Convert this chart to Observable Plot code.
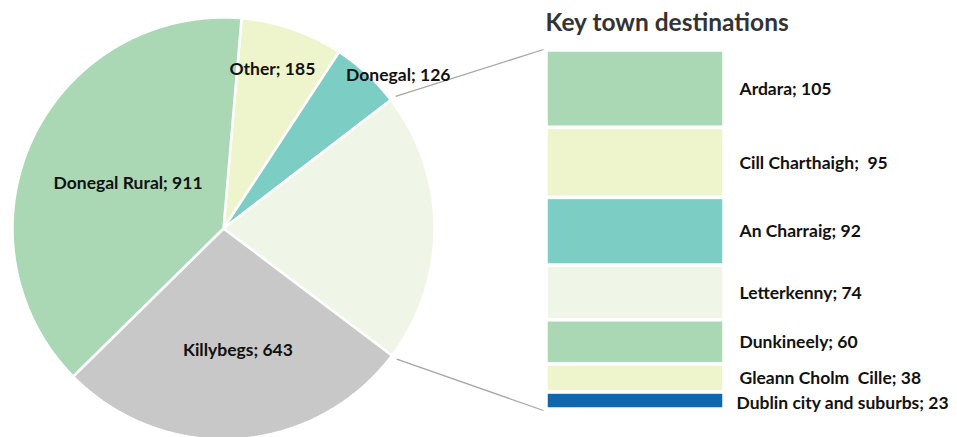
<!DOCTYPE html>
<html>
<head>
<meta charset="utf-8">
<script src="https://cdn.jsdelivr.net/npm/d3@7"></script>
<script src="https://cdn.jsdelivr.net/npm/@observablehq/plot@0.6"></script>
<style>
  html, body { margin: 0; padding: 0; background: #fff; }
  #chart svg { display: block; }
</style>
</head>
<body>
<div id="chart"></div>
<script>
// ---- data ----
const pieNames = ["Other", "Donegal", "Key towns", "Killybegs", "Donegal Rural"];
const pieOtherValues = { "Other": 185, "Donegal": 126, "Killybegs": 643, "Donegal Rural": 911 };
const townNames = ["Ardara", "Cill Charthaigh", "An Charraig", "Letterkenny", "Dunkineely", "Gleann Cholm Cille", "Dublin city and suburbs"];
const townValues = [105, 95, 92, 74, 60, 38, 23];
const townLabels = ["Ardara; 105", "Cill Charthaigh;  95", "An Charraig; 92", "Letterkenny; 74", "Dunkineely; 60", "Gleann Cholm  Cille; 38", "Dublin city and suburbs; 23"];
const title = "Key town destinations";

// ---- styling ----
const pieColors = { "Other": "#eef5cc", "Donegal": "#7ccdc4", "Key towns": "#eff5e7", "Killybegs": "#c8c8c8", "Donegal Rural": "#aad8b5" };
const townColors = ["#aad8b5", "#eef5cc", "#7ccdc4", "#eff5e7", "#aad8b5", "#eef5cc", "#0f68ae"];
const W = 957, H = 437;
const cx = 223, cy = 228, R = 211;
const startDeg = 4.9;
const barX1 = 546, barX2 = 724, barTop = 50, barBottom = 409;
const labelPos = { "Other": [0.79, -2], "Donegal": [1.1, 6], "Killybegs": [0.58, -3], "Donegal Rural": [0.5, 0] };
const font = "Lato, 'Liberation Sans', sans-serif";
const labelSize = 17.5;

// ---- derived ----
const keyTotal = d3.sum(townValues);
const pieData = pieNames.map(n => ({ name: n, value: n === "Key towns" ? keyTotal : pieOtherValues[n] }));
const rad = d => d * Math.PI / 180;
const arcs = d3.pie().sort(null).value(d => d.value)
  .startAngle(rad(startDeg)).endAngle(rad(startDeg + 360))(pieData);
const pt = (a, r) => [cx + r * Math.sin(a), cy - r * Math.cos(a)];

const marks = [];
for (const a of arcs) {
  const pts = [pt(0, 0)];
  const n = Math.max(8, Math.ceil((a.endAngle - a.startAngle) / rad(0.5)));
  for (let i = 0; i <= n; i++) pts.push(pt(a.startAngle + (a.endAngle - a.startAngle) * i / n, R));
  marks.push(Plot.line(pts, { x: d => d[0], y: d => d[1], fill: pieColors[a.data.name], stroke: "white", strokeWidth: 2.5, curve: "linear-closed" }));
}

// connectors from the key-towns slice to the bar
const key = arcs.find(a => a.data.name === "Key towns");
const p0 = pt(key.startAngle, R + 6), p1 = pt(key.endAngle, R + 6);
const connectors = [
  { x1: p0[0], y1: p0[1], x2: barX1 - 3, y2: barTop - 1 },
  { x1: p1[0], y1: p1[1], x2: barX1 - 3, y2: barBottom + 1 }
];
marks.push(Plot.link(connectors, { x1: "x1", y1: "y1", x2: "x2", y2: "y2", stroke: "#a6a6a6", strokeWidth: 1.3 }));

// stacked bar
const k = (barBottom - barTop) / keyTotal;
let cum = 0;
const bars = townNames.map((name, i) => {
  const y1 = barTop + cum * k;
  cum += townValues[i];
  const y2 = barTop + cum * k;
  return { name, value: townValues[i], label: townLabels[i], color: townColors[i], y1, y2 };
});
marks.push(Plot.rect(bars, { x1: () => barX1, x2: () => barX2, y1: "y1", y2: "y2", fill: "color", stroke: "white", strokeWidth: 3.5 }));
marks.push(Plot.text(bars, { x: d => barX2 + (d.name.startsWith("Dublin") ? 12 : 15), y: d => (d.y1 + d.y2) / 2 + (d.name.startsWith("Dublin") ? 2 : 0), text: "label", textAnchor: "start", fontWeight: "bold", fontSize: labelSize, fill: "#111", fontFamily: font }));

// pie labels
const pieLabels = arcs.filter(a => labelPos[a.data.name]).map(a => {
  const [f, dDeg] = labelPos[a.data.name];
  const mid = (a.startAngle + a.endAngle) / 2 + rad(dDeg);
  const [x, y] = pt(mid, R * f);
  return { x, y, text: `${a.data.name}; ${a.data.value}` };
});
marks.push(Plot.text(pieLabels, { x: "x", y: "y", text: "text", fontWeight: "bold", fontSize: labelSize, fill: "#111", fontFamily: font }));

// title
marks.push(Plot.text([title], { x: () => barX1 - 1, y: () => 23, text: d => d, textAnchor: "start", fontWeight: "bold", fontSize: 24.5, fill: "#333", fontFamily: font }));

const chart = Plot.plot({
  width: W, height: H,
  margin: 0,
  x: { domain: [0, W], range: [0, W], axis: null },
  y: { domain: [0, H], range: [0, H], axis: null },
  color: { type: "identity" },
  style: { background: "white", overflow: "visible" },
  marks
});
document.getElementById("chart").append(chart);
</script>
</body>
</html>
